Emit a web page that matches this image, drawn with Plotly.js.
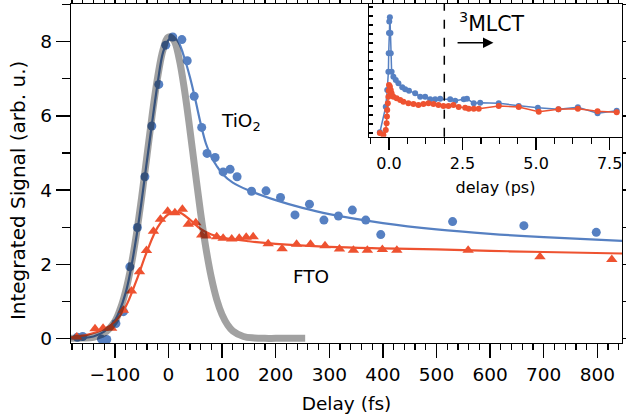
<!DOCTYPE html>
<html>
<head>
<meta charset="utf-8">
<script src="https://cdn.plot.ly/plotly-3.0.1.min.js"></script>
<style>html,body{margin:0;padding:0;background:#fff}#chart{width:626px;height:417px}</style>
</head>
<body>
<div id="chart"></div>
<script>
// ---- main panel: TiO2 data (delay fs, signal) ----
const tio2Delay = [-170,-160,-125,-115,-98,-84,-72,-58,-44,-31,-18,-5,8,25,35,48,62,72,87,102,115,128,155,182,209,236,263,290,317,343,368,396,530,663,798];
const tio2Signal = [0.03,0.05,-0.02,-0.03,0.4,0.72,1.93,2.99,4.36,5.73,6.85,7.91,8.13,8.06,7.49,6.53,5.69,4.99,4.88,4.49,4.56,4.36,3.97,3.98,3.8,3.33,3.62,3.19,3.3,3.46,3.19,2.8,3.15,3.04,2.86];
// TiO2 fit curve
const tio2FitDelay = [-182,-160,-140,-120,-100,-80,-60,-40,-20,-10,0,10,20,30,40,50,60,70,80,90,100,120,150,200,250,300,400,500,600,700,846];
const tio2FitSignal = [0.0,0.01,0.05,0.18,0.48,1.22,2.72,4.8,6.9,7.72,8.05,8.13,7.95,7.55,7.05,6.45,5.8,5.25,4.9,4.65,4.45,4.2,3.99,3.73,3.52,3.35,3.11,2.94,2.82,2.73,2.63];
// ---- main panel: FTO data ----
const ftoDelay = [-171,-137,-122,-106,-84,-69,-54,-41,-28,-15,-1.5,12,26,37,51,62,71,90,102,118,132,145,158,186,212,239,265,292,319,345,371,399,426,559,693,827];
const ftoSignal = [0.04,0.26,0.27,0.27,0.76,1.28,1.8,2.37,2.89,3.21,3.43,3.39,3.48,3.08,3.12,2.79,2.76,2.74,2.7,2.68,2.7,2.73,2.74,2.55,2.42,2.54,2.54,2.5,2.41,2.38,2.38,2.4,2.38,2.38,2.2,2.13];
const ftoFitDelay = [-182,-150,-120,-100,-80,-60,-40,-20,0,20,40,60,80,100,150,200,300,400,500,600,700,846];
const ftoFitSignal = [0.03,0.1,0.25,0.45,0.85,1.55,2.35,3.0,3.35,3.4,3.2,2.95,2.8,2.72,2.62,2.55,2.47,2.43,2.4,2.36,2.33,2.29];
// ---- instrument response (gray) ----
const irfDelay = [-182,-160,-140,-120,-100,-90,-80,-70,-60,-50,-40,-30,-20,-10,0,10,20,30,40,50,60,70,80,90,100,110,120,140,160,180,200,255];
const irfSignal = [0,0.01,0.03,0.14,0.46,0.79,1.27,1.93,2.79,3.81,4.94,6.07,7.06,7.79,8.13,8.04,7.54,6.69,5.63,4.49,3.38,2.42,1.64,1.05,0.64,0.37,0.2,0.05,0.01,0,0,0];
// ---- inset: long delay (ps) ----
const insetTio2Delay = [-0.31,-0.11,-0.06,-0.02,-0.01,0.0,0.01,0.03,0.05,0.06,0.09,0.15,0.23,0.32,0.45,0.55,0.68,0.89,1.06,1.23,1.40,1.57,1.74,2.08,2.25,2.54,2.65,2.88,3.10,3.73,4.41,5.06,5.76,6.42,7.09,7.74];
const insetTio2Signal = [0.05,1.84,3.0,4.29,5.57,7.0,7.8,8.1,7.0,5.57,4.29,3.94,3.7,3.47,3.2,3.05,2.96,2.77,2.54,2.54,2.35,2.35,2.4,2.35,2.26,2.35,2.4,2.07,2.12,2.07,1.89,1.77,1.66,1.8,1.38,1.55];
const insetFtoDelay = [-0.31,-0.19,-0.11,-0.08,-0.07,-0.06,-0.04,-0.02,-0.01,0.0,0.03,0.06,0.09,0.15,0.26,0.38,0.49,0.66,0.83,1.0,1.17,1.34,1.51,1.68,1.85,2.02,2.19,2.37,2.59,2.71,2.88,3.05,3.73,4.41,5.09,5.76,6.42,7.09,7.74];
const insetFtoSignal = [0.0,-0.14,0.2,0.68,1.15,1.6,2.07,2.54,2.96,3.36,3.25,3.0,2.77,2.54,2.42,2.31,2.19,2.07,2.03,1.96,2.03,2.07,2.03,1.96,1.89,1.89,1.96,1.82,1.77,1.7,1.7,1.7,1.89,1.82,1.49,1.66,1.7,1.52,1.45];
const mlctOnset = [1.88];
const labels = {tio2: 'TiO<sub>2</sub>', fto: 'FTO', mlct: '<sup>3</sup>MLCT', yTitle: 'Integrated Signal (arb. u.)'};

const BLUE = 'rgb(86,128,194)';
const RED = 'rgb(238,82,48)';
const FONT = 'DejaVu Sans, Liberation Sans, Arial, sans-serif';

const traces = [
  {x: tio2FitDelay, y: tio2FitSignal, mode: 'lines', line: {color: BLUE, width: 2.2, shape: 'spline'}, xaxis: 'x', yaxis: 'y', hoverinfo: 'skip'},
  {x: tio2Delay, y: tio2Signal, mode: 'markers', marker: {color: BLUE, size: 9, symbol: 'circle'}, xaxis: 'x', yaxis: 'y'},
  {x: ftoFitDelay, y: ftoFitSignal, mode: 'lines', line: {color: RED, width: 2.2, shape: 'spline'}, xaxis: 'x', yaxis: 'y', hoverinfo: 'skip'},
  {x: ftoDelay, y: ftoSignal, mode: 'markers', marker: {color: RED, size: 10, symbol: 'triangle-up'}, xaxis: 'x', yaxis: 'y'},
  {x: irfDelay, y: irfSignal, mode: 'lines', line: {color: 'rgba(0,0,0,0.37)', width: 7, shape: 'spline'}, xaxis: 'x', yaxis: 'y'},
  {x: insetTio2Delay, y: insetTio2Signal, mode: 'lines+markers', line: {color: BLUE, width: 1.5}, marker: {color: BLUE, size: 6}, xaxis: 'x2', yaxis: 'y2'},
  {x: insetFtoDelay, y: insetFtoSignal, mode: 'lines+markers', line: {color: RED, width: 1.5}, marker: {color: RED, size: 6}, xaxis: 'x2', yaxis: 'y2'}
];

const axisCommon = {showgrid: false, zeroline: false, showline: true, linecolor: '#000', linewidth: 1.3, tickcolor: '#000', tickwidth: 1.3};

const layout = {
  width: 626, height: 417,
  margin: {l: 71, r: 4, t: 4, b: 74},
  paper_bgcolor: '#fff', plot_bgcolor: '#fff',
  showlegend: false,
  font: {family: FONT, size: 18.5, color: '#000'},
  xaxis: Object.assign({}, axisCommon, {
    domain: [0, 1], range: [-181.8, 846], tickmode: 'linear', tick0: 0, dtick: 100,
    ticks: 'outside', ticklen: 14, mirror: 'allticks',
    minor: {dtick: 20, ticks: 'outside', ticklen: 6, tickcolor: '#000', tickwidth: 1.2},
    tickfont: {size: 18.5},
    title: {text: 'Delay (fs)', font: {size: 18.5}, standoff: 13}
  }),
  yaxis: Object.assign({}, axisCommon, {
    domain: [0, 1], range: [-0.125, 9.02], tickmode: 'linear', tick0: 0, dtick: 2,
    ticks: 'outside', ticklen: 14, mirror: 'allticks',
    minor: {dtick: 1, ticks: 'outside', ticklen: 8, tickcolor: '#000', tickwidth: 1.2},
    tickfont: {size: 18.5}
  }),
  xaxis2: Object.assign({}, axisCommon, {
    domain: [0.5408, 1], anchor: 'y2', range: [-0.68, 7.92], tickmode: 'linear', tick0: 0, dtick: 2.5,
    tickformat: '.1f', ticks: 'outside', ticklen: 12, mirror: true,
    minor: {dtick: 0.625, ticks: 'outside', ticklen: 6, tickcolor: '#000', tickwidth: 1.2},
    tickfont: {size: 16},
    title: {text: 'delay (ps)', font: {size: 16}, standoff: 9}
  }),
  yaxis2: Object.assign({}, axisCommon, {
    domain: [0.6086, 1], anchor: 'x2', range: [-0.26, 9.02], tickmode: 'linear', tick0: 0, dtick: 0.63,
    ticks: 'inside', ticklen: 4, showticklabels: false, mirror: true
  }),
  shapes: [
    {type: 'line', xref: 'x2', yref: 'y2 domain', x0: mlctOnset[0], x1: mlctOnset[0], y0: 0, y1: 1,
     line: {color: '#000', width: 1.5, dash: 'dash'}}
  ],
  annotations: [
    {xref: 'paper', yref: 'paper', x: -0.095, y: 0.45, text: labels.yTitle, textangle: -90, showarrow: false,
     xanchor: 'center', yanchor: 'middle', font: {size: 20}},
    {xref: 'x', yref: 'y', x: 94, y: 5.83, text: labels.tio2, showarrow: false, xanchor: 'left', yanchor: 'middle', font: {size: 18.5}},
    {xref: 'x', yref: 'y', x: 228, y: 1.68, text: labels.fto, showarrow: false, xanchor: 'left', yanchor: 'middle', font: {size: 18.5}},
    {xref: 'x2', yref: 'y2', x: 2.3, y: 7.75, text: labels.mlct, showarrow: false, xanchor: 'left', yanchor: 'middle', font: {size: 20.5}},
    {xref: 'x2', yref: 'y2', x: 3.55, y: 6.31, axref: 'x2', ayref: 'y2', ax: 2.28, ay: 6.31, text: '',
     showarrow: true, arrowhead: 2, arrowsize: 1.3, arrowwidth: 1.6, arrowcolor: '#000'}
  ]
};

Plotly.newPlot('chart', traces, layout, {displayModeBar: false, staticPlot: true});
</script>
</body>
</html>
